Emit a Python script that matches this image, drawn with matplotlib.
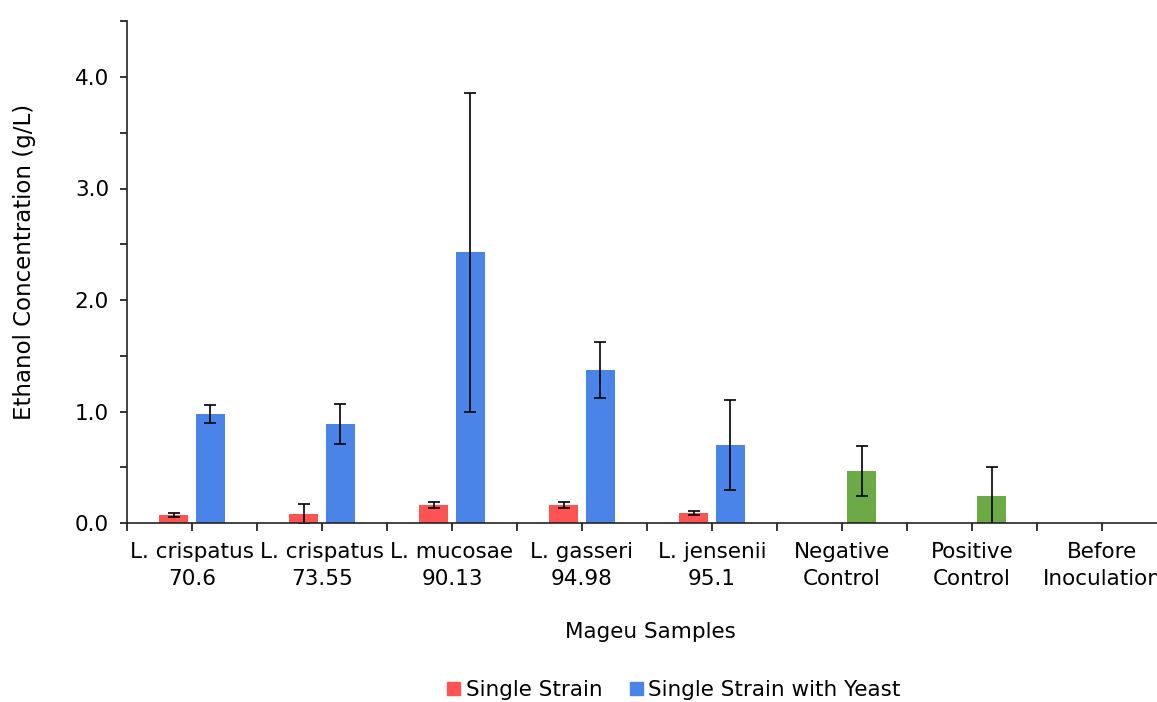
import numpy as np
import matplotlib
matplotlib.use("Agg")
import matplotlib.pyplot as plt
from matplotlib.patches import Patch

# ethanol (g/L) per mageu sample, mean and error
samples = ["L. crispatus\n70.6", "L. crispatus\n73.55", "L. mucosae\n90.13",
           "L. gasseri\n94.98", "L. jensenii\n95.1", "Negative\nControl",
           "Positive\nControl", "Before\nInoculation"]
single = [0.075, 0.08, 0.16, 0.163, 0.09, np.nan, np.nan, np.nan]
single_err = [0.018, 0.09, 0.025, 0.027, 0.02, 0, 0, 0]
yeast = [0.975, 0.89, 2.43, 1.37, 0.70, np.nan, np.nan, np.nan]
yeast_err = [0.08, 0.178, 1.43, 0.25, 0.40, 0, 0, 0]
control = [np.nan, np.nan, np.nan, np.nan, np.nan, 0.47, 0.24, np.nan]
control_err = [0, 0, 0, 0, 0, 0.225, 0.26, 0]

red = "#FF5252"
blue = "#4A84E8"
green = "#6DAA45"

plt.rcParams["font.family"] = "DejaVu Sans"
plt.rcParams["font.size"] = 15.5

fig = plt.figure(figsize=(11.57, 7.02), dpi=100)
ax = fig.add_axes([127/1157, 1-523/702, 1040/1157, 501.75/702])

x = np.arange(len(samples))
w = 0.22
off = 0.142
ebar = dict(ecolor="black", elinewidth=1.2, capsize=4, capthick=1.2)

def draw(vals, errs, shift, color):
    v = np.array(vals, dtype=float)
    e = np.array(errs, dtype=float)
    m = ~np.isnan(v)
    ax.bar(x[m] + shift, v[m], width=w, color=color, yerr=e[m],
           error_kw=ebar, zorder=2)

draw(single, single_err, -off, red)
draw(yeast, yeast_err, off, blue)
draw(control, control_err, off + 0.01, green)

ax.set_xlim(-0.5, len(samples) - 0.5)
ax.set_ylim(0, 4.5)
ax.set_yticks([0, 1, 2, 3, 4])
ax.set_yticklabels(["%.1f" % t for t in [0, 1, 2, 3, 4]])
ax.set_yticks(np.arange(0.5, 4.6, 1.0), minor=True)
ax.set_xticks(x)
ax.set_xticklabels(samples, linespacing=1.4)
ax.set_xticks(np.arange(-0.5, len(samples), 1.0), minor=True)

ax.tick_params(axis="y", which="both", direction="out", length=5, width=1.1, pad=8)
ax.tick_params(axis="x", which="both", direction="out", length=6, width=1.1, pad=8)

for s in ["top", "right"]:
    ax.spines[s].set_visible(False)
for s in ["left", "bottom"]:
    ax.spines[s].set_linewidth(1.2)
    ax.spines[s].set_color("#222222")

fig.text(25/1157, 1-262/702, "Ethanol Concentration (g/L)", rotation=90,
         ha="center", va="center", fontsize=16.5)
fig.text(650/1157, 1-632/702, "Mageu Samples", ha="center", va="center")

handles = [Patch(color=red, label="Single Strain"),
           Patch(color=blue, label="Single Strain with Yeast")]
fig.legend(handles=handles, loc="center", bbox_to_anchor=(674/1157, 1-690/702),
           ncol=2, frameon=False, handlelength=0.6, handleheight=0.6,
           handletextpad=0.25, columnspacing=1.3)

fig.savefig("out.png", dpi=100)
